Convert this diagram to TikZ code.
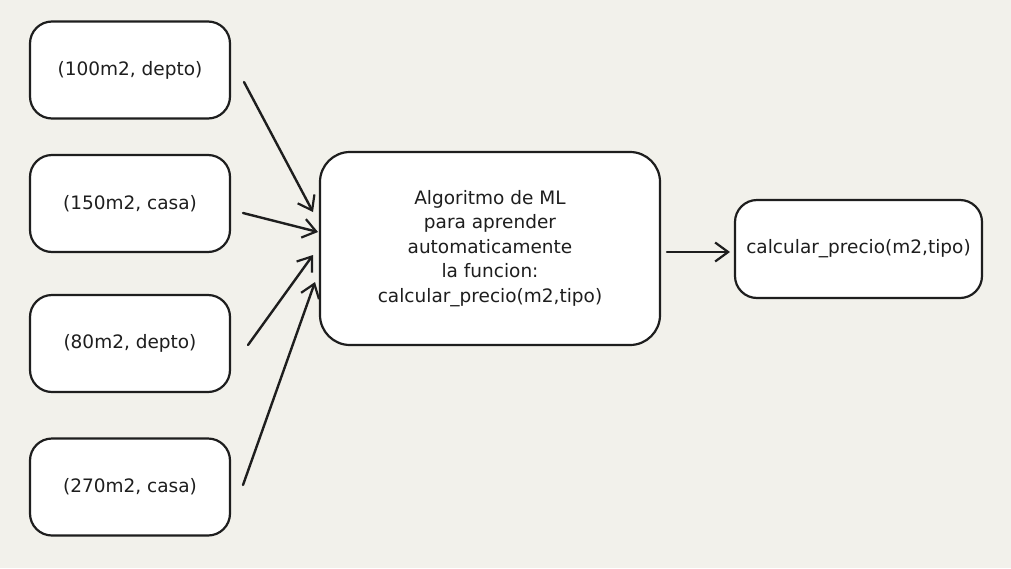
\documentclass[tikz,border=0pt]{standalone}
\usepackage{fontspec}
\setmainfont{DejaVu Sans}
\usetikzlibrary{arrows.meta}
\definecolor{bg}{HTML}{F2F1EB}
\definecolor{ink}{HTML}{1E1E1E}
\tikzset{
  box/.style={draw=ink, fill=white, line width=2.2pt, rounded corners=22pt, inner sep=0pt, font=\fontsize{18.5}{24.5}\selectfont, text=ink, align=center},
  conn/.style={draw=ink, line width=2.4pt, line cap=round, -{Straight Barb[length=13pt,width=19pt,line width=2.2pt]}}
}
\begin{document}
\begin{tikzpicture}[x=1pt,y=-1pt]
\fill[bg] (0,0) rectangle (1011,568);
\useasboundingbox (0,0) rectangle (1011,568);
\node[box, minimum width=200pt, minimum height=97pt] (b1) at (130,70) {(100m2, depto)};
\node[box, minimum width=200pt, minimum height=97pt] (b2) at (130,203.5) {(150m2, casa)};
\node[box, minimum width=200pt, minimum height=97pt] (b3) at (130,343.5) {(80m2, depto)};
\node[box, minimum width=200pt, minimum height=97pt] (b4) at (130,487) {(270m2, casa)};
\node[box, rounded corners=30pt, minimum width=340pt, minimum height=193pt] (alg) at (490,248.5) {Algoritmo de ML\\para aprender\\automaticamente\\la funcion:\\calcular\_precio(m2,tipo)};
\node[box, minimum width=247pt, minimum height=98pt] (out) at (858.5,249) {calcular\_precio(m2,tipo)};
\coordinate (s1) at (244,82);  \coordinate (e1) at (313,212);
\coordinate (s2) at (243,213); \coordinate (e2) at (318,232);
\coordinate (s3) at (248,345); \coordinate (e3) at (313,255);
\coordinate (s4) at (243,485); \coordinate (e4) at (315,282);
\coordinate (s5) at (667,252); \coordinate (e5) at (730,252);
\draw[conn] (s1) -- (e1);
\draw[conn] (s2) -- (e2);
\draw[conn] (s3) -- (e3);
\draw[conn] (s4) -- (e4);
\draw[conn] (s5) -- (e5);
\end{tikzpicture}
\end{document}
